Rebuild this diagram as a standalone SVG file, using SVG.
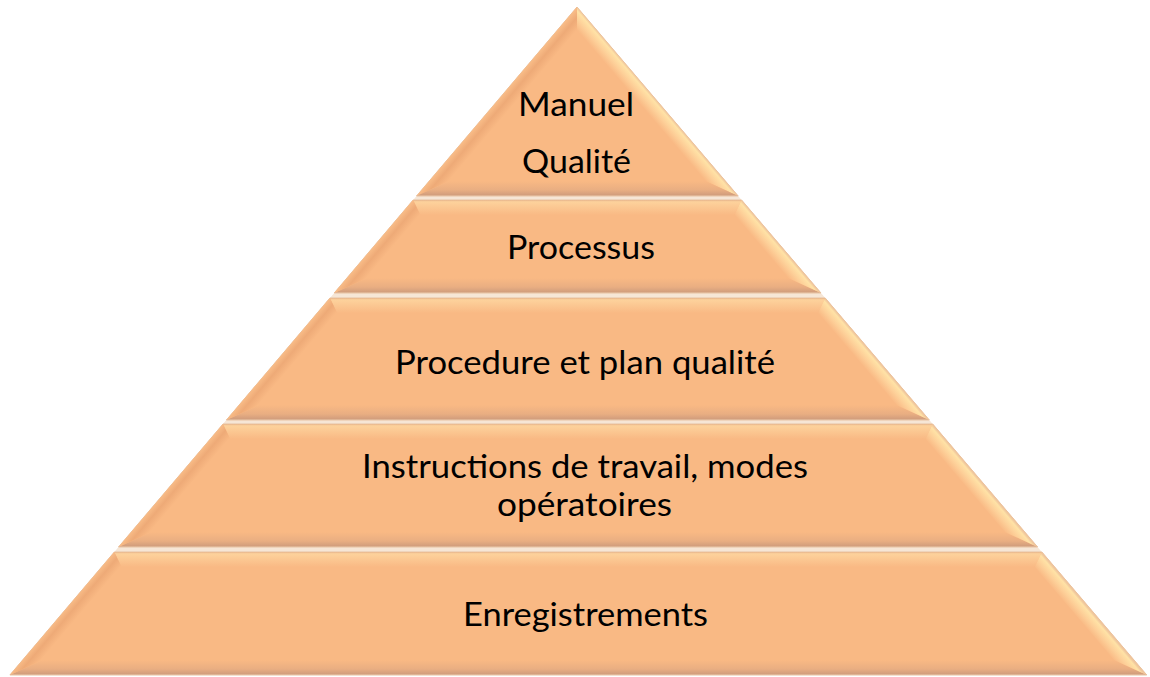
<svg xmlns="http://www.w3.org/2000/svg" width="1150" height="677" viewBox="0 0 1150 677">
  <defs>
    <!-- bevel along the left slanted edge: the whole edge is one line, so one user-space gradient serves every layer -->
    <linearGradient id="bevL" gradientUnits="userSpaceOnUse" x1="577" y1="7" x2="588.4" y2="16.7">
      <stop offset="0" stop-color="#f9bd88"/>
      <stop offset="0.45" stop-color="#eeaa77"/>
      <stop offset="1" stop-color="#f9b984"/>
    </linearGradient>
    <!-- bevel along the right slanted edge (highlight) -->
    <linearGradient id="bevR" gradientUnits="userSpaceOnUse" x1="577" y1="7" x2="565.6" y2="16.7">
      <stop offset="0" stop-color="#efc59c"/>
      <stop offset="0.15" stop-color="#ffe2a6"/>
      <stop offset="0.55" stop-color="#fdcf98"/>
      <stop offset="1" stop-color="#f9b984"/>
    </linearGradient>
    <!-- top and bottom bevel bands, per strip bounding box -->
    <linearGradient id="bevT" x1="0" y1="0" x2="0" y2="1">
      <stop offset="0" stop-color="#e6b48c"/>
      <stop offset="0.12" stop-color="#fdd29c"/>
      <stop offset="1" stop-color="#f9b984"/>
    </linearGradient>
    <linearGradient id="bevB" x1="0" y1="0" x2="0" y2="1">
      <stop offset="0" stop-color="#f9b984"/>
      <stop offset="0.6" stop-color="#e9ae82"/>
      <stop offset="0.9" stop-color="#d49f7d"/>
      <stop offset="1" stop-color="#e4bfa0"/>
    </linearGradient>
  </defs>
  <style>
    .base { fill: #f9b984; stroke: #e7c2a2; stroke-width: 1; }
    .lb { fill: url(#bevL); }
    .rb { fill: url(#bevR); }
    .tb { fill: url(#bevT); }
    .bb { fill: url(#bevB); }
    .label { font-family: Lato, "Liberation Sans", sans-serif; font-size: 33px; fill: #000000; text-anchor: middle; }
  </style>

  <rect width="1150" height="677" fill="#ffffff"/>

  <!-- pale backing that shows through the thin gaps between the tiers -->
  <polygon points="577,7 1146.8,675 9.9,675" fill="#f6e6d6"/>

  <g id="tier-manuel-qualite">
    <polygon class="base" points="577,7 738.2,196 416.5,196"/>
    <polygon class="lb" points="577,7 416.5,196 449.3,181 577,30.5"/>
    <polygon class="rb" points="577,7 738.2,196 705.4,181 577,30.5"/>
    <polygon class="bb" points="416.5,196 738.2,196 705.4,181 449.3,181"/>
    <text class="label" x="576" y="116" textLength="116" lengthAdjust="spacingAndGlyphs">Manuel</text>
    <text class="label" x="576.5" y="173" textLength="109" lengthAdjust="spacingAndGlyphs">Qualité</text>
  </g>

  <g id="tier-processus">
    <polygon class="base" points="413.1,200 741.6,200 821,293 334.2,293"/>
    <polygon class="tb" points="413.1,200 741.6,200 734.4,215 420.4,215"/>
    <polygon class="bb" points="334.2,293 821,293 788.2,278 366.9,278"/>
    <polygon class="lb" points="413.1,200 420.4,215 366.9,278 334.2,293"/>
    <polygon class="rb" points="741.6,200 734.4,215 788.2,278 821,293"/>
    <text class="label" x="581" y="259" textLength="148" lengthAdjust="spacingAndGlyphs">Processus</text>
  </g>

  <g id="tier-procedure">
    <polygon class="base" points="329.9,298 825.2,298 929.3,420 226.4,420"/>
    <polygon class="tb" points="329.9,298 825.2,298 818,313 337.2,313"/>
    <polygon class="bb" points="226.4,420 929.3,420 896.5,405 259.1,405"/>
    <polygon class="lb" points="329.9,298 337.2,313 259.1,405 226.4,420"/>
    <polygon class="rb" points="825.2,298 818,313 896.5,405 929.3,420"/>
    <text class="label" x="585" y="374" textLength="380" lengthAdjust="spacingAndGlyphs">Procedure et plan qualité</text>
  </g>

  <g id="tier-instructions">
    <polygon class="base" points="223,424 932.7,424 1037.6,547 118.5,547"/>
    <polygon class="tb" points="223,424 932.7,424 925.5,439 230.2,439"/>
    <polygon class="bb" points="118.5,547 1037.6,547 1004.8,532 151.3,532"/>
    <polygon class="lb" points="223,424 230.2,439 151.3,532 118.5,547"/>
    <polygon class="rb" points="932.7,424 925.5,439 1004.8,532 1037.6,547"/>
    <text class="label" x="585" y="478" textLength="446" lengthAdjust="spacingAndGlyphs">Instructions de travail, modes</text>
    <text class="label" x="584.5" y="516" textLength="175" lengthAdjust="spacingAndGlyphs">opératoires</text>
  </g>

  <g id="tier-enregistrements">
    <polygon class="base" points="114.3,552 1041.9,552 1146.8,675 9.9,675"/>
    <polygon class="tb" points="114.3,552 1041.9,552 1034.7,567 121.6,567"/>
    <polygon class="bb" points="9.9,675 1146.8,675 1114,660 42.6,660"/>
    <polygon class="lb" points="114.3,552 121.6,567 42.6,660 9.9,675"/>
    <polygon class="rb" points="1041.9,552 1034.7,567 1114,660 1146.8,675"/>
    <text class="label" x="585.5" y="626" textLength="245" lengthAdjust="spacingAndGlyphs">Enregistrements</text>
  </g>
</svg>
